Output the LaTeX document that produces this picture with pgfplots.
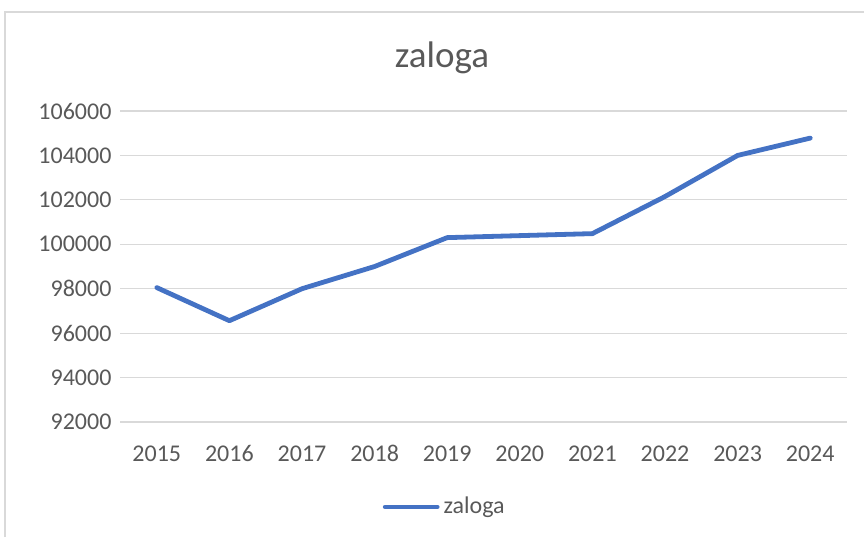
\documentclass[border=0pt]{standalone}
\usepackage{pgfplots}
\pgfplotsset{compat=1.18}
\usepackage{fontspec}
\setmainfont{Carlito}
\definecolor{xlblue}{HTML}{4472C4}
\definecolor{xlgrid}{HTML}{D9D9D9}
\definecolor{xltext}{HTML}{595959}
\begin{document}
\begin{tikzpicture}[x=0.5pt,y=0.5pt]
% picture frame, 1px = 0.5pt
\path[use as bounding box] (0,0) rectangle (864,537);
\draw[xlgrid, line width=0.6pt] (5,0) -- (5,525) -- (864,525);
\node[text=xltext, font=\fontsize{18.5}{20}\selectfont] at (442,479) {zaloga};
\begin{axis}[
  at={(60.25pt,57.5pt)}, anchor=south west,
  scale only axis, width=363pt, height=155.5pt,
  xmin=-0.5, xmax=9.5, ymin=92000, ymax=106000,
  xtick={0,...,9},
  xticklabels={2015,2016,2017,2018,2019,2020,2021,2022,2023,2024},
  ytick={92000,94000,...,106000},
  scaled y ticks=false,
  yticklabel={\pgfmathprintnumber[fixed,precision=0,set thousands separator={}]{\tick}},
  ymajorgrids, grid style={xlgrid, line width=0.6pt},
  axis line style={draw=none}, major tick length=0pt,
  tick label style={text=xltext, font=\fontsize{12}{13}\selectfont},
  /pgf/number format/assume math mode=true,
  yticklabel style={xshift=-1pt},
  xticklabel style={anchor=base, yshift=-19.5pt},
  legend style={at={(0.448,-0.273)}, anchor=center, draw=none, fill=none,
    font=\fontsize{12}{13}\selectfont, text=xltext,
    legend cell align=left, inner sep=0pt},
  legend image code/.code={\draw[#1, line cap=round] (0pt,0pt) -- (26pt,0pt);},
]
\addplot[xlblue, line width=2.4pt, line join=round, line cap=round] coordinates {
  (0,98050) (1,96560) (2,98000) (3,99000) (4,100300)
  (5,100390) (6,100480) (7,102150) (8,104000) (9,104780)};
\addlegendentry{zaloga}
\end{axis}
\end{tikzpicture}
\end{document}
